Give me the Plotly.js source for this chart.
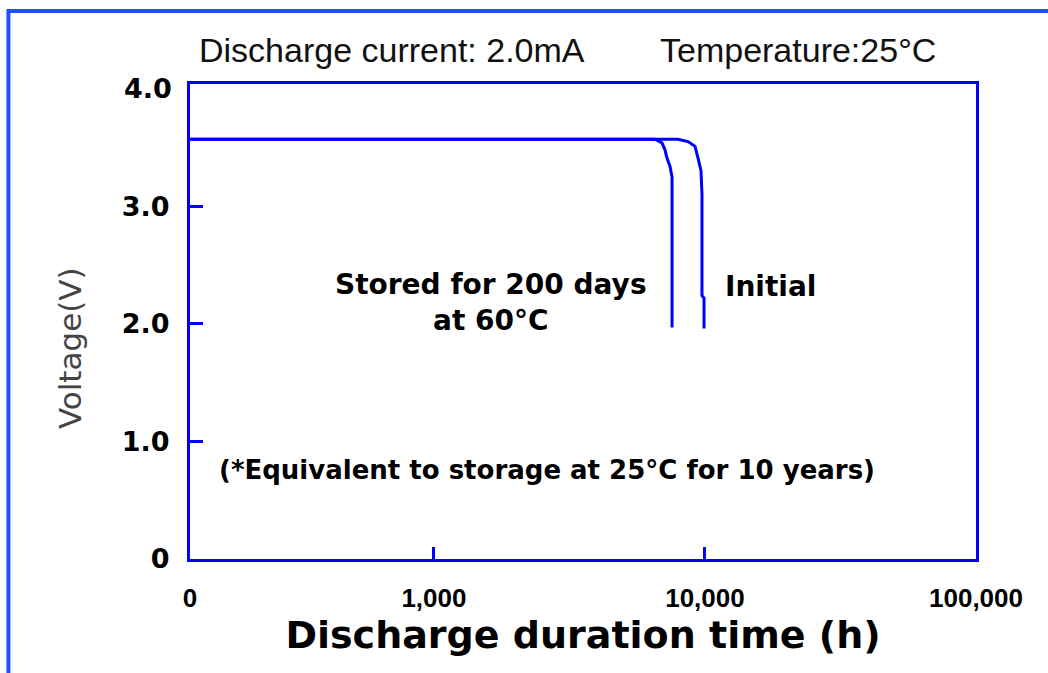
<!DOCTYPE html>
<html>
<head>
<meta charset="utf-8">
<script src="https://cdn.plot.ly/plotly-3.0.1.min.js"></script>
<style>html,body{margin:0;padding:0;background:#fff;}#chart{width:1048px;height:673px;}</style>
</head>
<body>
<div id="chart"></div>
<script>
// Data (x in hours, log scale; y in volts)
const storedHours   = [126, 6540, 6940, 7120, 7240, 7430, 7560, 7560];
const storedVoltage = [3.57, 3.57, 3.54, 3.48, 3.41, 3.34, 3.25, 1.97];
const initialHours   = [126, 7950, 8660, 9190, 9430, 9670, 9750, 9750, 9920, 9920];
const initialVoltage = [3.57, 3.57, 3.55, 3.51, 3.41, 3.30, 3.10, 2.24, 2.22, 1.96];
const xTickVals = [Math.pow(10, 2.1), 1000, 10000, 100000];
const xTickText = ['0', '1,000', '10,000', '100,000'];
const yTickVals = [0, 1, 2, 3];
const yTickText = ['0', '1.0', '2.0', '3.0'];
const yTopTickVals = [4];
const yTopTickText = ['4.0'];

const BLUE = '#0000ff';
const boldFont = 'DejaVu Sans, sans-serif';
const yTickFont = {family: boldFont, size: 27, color: '#000', weight: 'bold'};

const traces = [
  {x: storedHours, y: storedVoltage, mode: 'lines', name: 'Stored for 200 days at 60°C',
   line: {color: BLUE, width: 3}, hoverinfo: 'skip'},
  {x: initialHours, y: initialVoltage, mode: 'lines', name: 'Initial',
   line: {color: BLUE, width: 3}, hoverinfo: 'skip'}
];

// Top tick label (4.0) drawn without a tick mark, as in the reference
const topTickAnnotations = yTopTickVals.map((v, i) => ({
  text: yTopTickText[i], xref: 'paper', yref: 'y', x: -0.0025, y: v,
  xanchor: 'right', yanchor: 'middle', xshift: -14, showarrow: false, font: yTickFont
}));

const layout = {
  width: 1048, height: 673,
  margin: {l: 190, r: 72, t: 84, b: 114},
  paper_bgcolor: '#fff', plot_bgcolor: '#fff',
  showlegend: false,
  xaxis: {
    type: 'log', range: [2.1, 5],
    tickvals: xTickVals, ticktext: xTickText,
    ticks: 'inside', ticklen: 12, tickwidth: 3, tickcolor: BLUE,
    showline: true, mirror: true, linecolor: BLUE, linewidth: 3,
    showgrid: false, zeroline: false,
    ticklabelstandoff: 14,
    tickfont: {family: 'Liberation Sans, sans-serif', size: 26, color: '#000', weight: 'bold'},
    title: {text: 'Discharge duration time (h)', standoff: 2,
            font: {family: boldFont, size: 38, color: '#000', weight: 'bold'}}
  },
  yaxis: {
    range: [0, 4.04],
    tickvals: yTickVals, ticktext: yTickText,
    ticks: 'inside', ticklen: 13, tickwidth: 3, tickcolor: BLUE,
    showline: true, mirror: true, linecolor: BLUE, linewidth: 3,
    showgrid: false, zeroline: false,
    ticklabelstandoff: 12,
    tickfont: yTickFont
  },
  shapes: [
    {type: 'line', xref: 'paper', yref: 'paper', x0: -0.231, x1: 1.1, y0: 1.1537, y1: 1.1537,
     line: {color: '#1f50ff', width: 4}},
    {type: 'line', xref: 'paper', yref: 'paper', x0: -0.231, x1: -0.231, y0: 1.158, y1: -0.25,
     line: {color: '#1f50ff', width: 4}}
  ],
  annotations: topTickAnnotations.concat([
    {text: 'Discharge current: 2.0mA', xref: 'paper', yref: 'paper', x: 0.0089, y: 1.0716,
     xanchor: 'left', yanchor: 'middle', showarrow: false,
     font: {family: 'Liberation Sans, sans-serif', size: 34, color: '#111'}},
    {text: 'Temperature:25°C', xref: 'paper', yref: 'paper', x: 0.5954, y: 1.0716,
     xanchor: 'left', yanchor: 'middle', showarrow: false,
     font: {family: 'Liberation Sans, sans-serif', size: 34, color: '#111'}},
    {text: 'Voltage(V)', xref: 'paper', yref: 'paper', x: -0.1527, y: 0.444,
     xanchor: 'center', yanchor: 'middle', textangle: -90, showarrow: false,
     font: {family: 'DejaVu Sans, sans-serif', size: 31, color: '#444'}},
    {text: 'Stored for 200 days<br>at 60°C', xref: 'paper', yref: 'paper', x: 0.383, y: 0.539,
     xanchor: 'center', yanchor: 'middle', align: 'center', showarrow: false,
     font: {family: boldFont, size: 28, color: '#000', weight: 'bold'}},
    {text: 'Initial', xref: 'paper', yref: 'paper', x: 0.739, y: 0.573,
     xanchor: 'center', yanchor: 'middle', showarrow: false,
     font: {family: boldFont, size: 28, color: '#000', weight: 'bold'}},
    {text: '(*Equivalent to storage at 25°C for 10 years)', xref: 'paper', yref: 'paper', x: 0.454, y: 0.187,
     xanchor: 'center', yanchor: 'middle', showarrow: false,
     font: {family: boldFont, size: 26, color: '#000', weight: 'bold'}}
  ])
};

Plotly.newPlot('chart', traces, layout, {displayModeBar: false, staticPlot: true});
</script>
</body>
</html>
